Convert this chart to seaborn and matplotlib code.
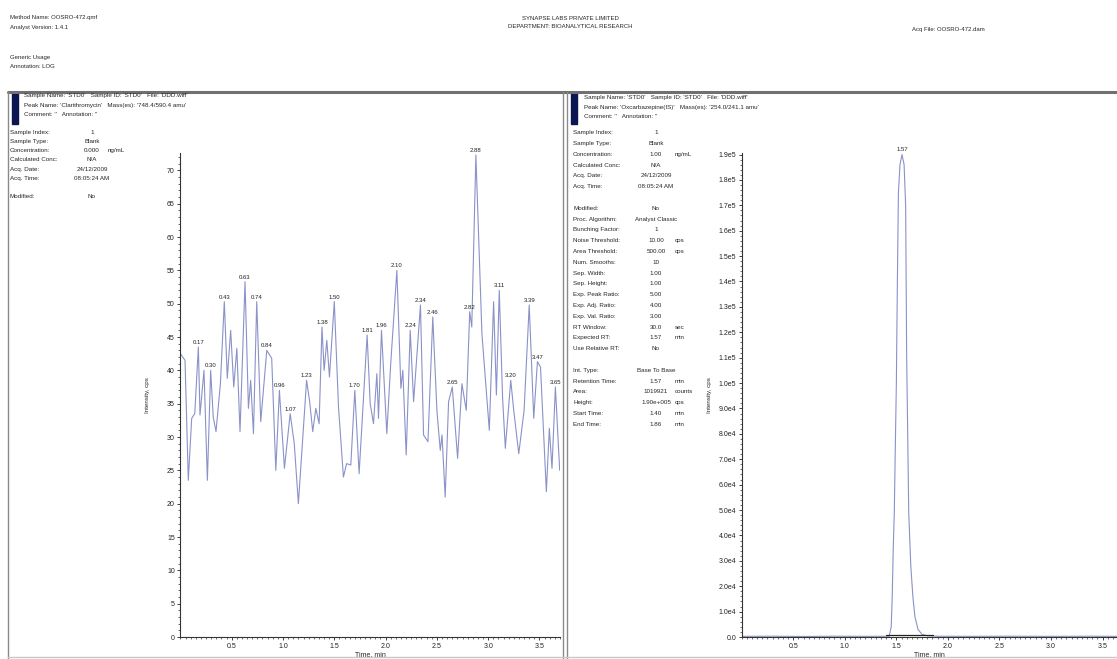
import numpy as np
import matplotlib
matplotlib.use("Agg")
import matplotlib.pyplot as plt
import matplotlib.ticker as mticker
from matplotlib.lines import Line2D
from matplotlib.patches import Rectangle
import seaborn as sns

W, H = 1117, 659

# Left panel: analyte trace (blank sample), time in min / intensity in cps
blank_time = [0.00, 0.045, 0.077, 0.110, 0.14, 0.175, 0.191, 0.23, 0.263, 0.295,
              0.32, 0.347, 0.39, 0.428, 0.457, 0.49, 0.52, 0.55, 0.581, 0.63,
              0.663, 0.685, 0.712, 0.744, 0.783, 0.842, 0.89, 0.930, 0.965, 1.014,
              1.07, 1.11, 1.150, 1.23, 1.26, 1.290, 1.32, 1.352, 1.38, 1.401,
              1.427, 1.453, 1.50, 1.541, 1.589, 1.62, 1.661, 1.70, 1.742, 1.82,
              1.850, 1.882, 1.915, 1.931, 1.96, 2.012, 2.05, 2.11, 2.149, 2.168,
              2.201, 2.24, 2.273, 2.34, 2.370, 2.413, 2.46, 2.50, 2.533, 2.55,
              2.581, 2.614, 2.65, 2.702, 2.744, 2.786, 2.82, 2.84, 2.88, 2.939,
              3.011, 3.053, 3.08, 3.108, 3.14, 3.167, 3.22, 3.249, 3.298, 3.35,
              3.40, 3.444, 3.48, 3.51, 3.567, 3.596, 3.622, 3.655, 3.697]
blank_cps = [42.5, 41.5, 23.5, 32.8, 33.5, 43.5, 33.3, 40.0, 23.5, 40.0,
             33.0, 30.8, 38.0, 50.3, 38.8, 46.0, 37.5, 43.3, 30.8, 53.3,
             34.3, 38.5, 30.5, 50.3, 32.3, 43.0, 41.8, 25.0, 37.0, 25.3,
             33.5, 29.0, 20.0, 38.5, 35.3, 30.8, 34.3, 32.0, 46.5, 40.0,
             44.5, 39.0, 50.3, 34.5, 24.0, 26.0, 25.8, 37.0, 24.5, 45.3,
             35.0, 32.0, 39.5, 32.8, 46.0, 30.5, 41.0, 55.0, 37.3, 40.0,
             27.3, 46.0, 35.3, 49.8, 30.3, 29.3, 48.0, 34.0, 28.0, 30.3,
             21.0, 35.3, 37.5, 26.8, 38.0, 34.0, 48.8, 46.5, 72.3, 45.5,
             31.0, 50.3, 36.3, 52.0, 36.0, 28.3, 38.5, 34.0, 27.5, 34.0,
             49.8, 32.8, 41.3, 40.5, 21.8, 31.3, 25.3, 37.5, 25.0]
blank_peak_times = [0.175, 0.295, 0.428, 0.63, 0.744, 0.842, 0.965, 1.07, 1.23, 1.38,
                    1.50, 1.70, 1.82, 1.96, 2.11, 2.24, 2.34, 2.46, 2.65, 2.82,
                    2.88, 3.108, 3.22, 3.40, 3.48, 3.655]
blank_peak_labels = ["0.17", "0.30", "0.43", "0.63", "0.74", "0.84", "0.96", "1.07", "1.23", "1.38",
                     "1.50", "1.70", "1.81", "1.96", "2.10", "2.24", "2.34", "2.46", "2.65", "2.82",
                     "2.88", "3.11", "3.20", "3.39", "3.47", "3.65"]

# Right panel: internal standard trace
is_time = [0.00, 0.30, 0.60, 0.90, 1.20, 1.43, 1.45, 1.46, 1.47, 1.48,
           1.49, 1.50, 1.51, 1.52, 1.535, 1.555, 1.575, 1.59, 1.60, 1.61,
           1.62, 1.64, 1.66, 1.68, 1.71, 1.75, 1.80, 1.90, 2.20, 2.60,
           3.00, 3.40, 3.64]
is_cps = [250, 300, 200, 300, 250, 300, 4000, 16000, 35000, 49000,
          75000, 100000, 140000, 175000, 186000, 190000, 186000, 170000, 110000, 80000,
          49000, 28000, 16000, 8000, 3000, 1000, 500, 300, 250, 300,
          250, 300, 250]
is_peak_times = [1.555]
is_peak_labels = ["1.57"]
is_baseline_time = [1.40, 1.86]
is_baseline_cps = [700, 700]

left_rows = ["Sample Index:", "Sample Type:", "Concentration:", "Calculated Conc:",
             "Acq. Date:", "Acq. Time:", "", "Modified:"]
left_values = ["1", "Blank", "0.000", "N/A", "24/12/2009", "08:05:24 AM", "", "No"]
left_units = ["", "", "ng/mL", "", "", "", "", ""]

right_rows = ["Sample Index:", "Sample Type:", "Concentration:", "Calculated Conc:",
              "Acq. Date:", "Acq. Time:", "", "Modified:", "Proc. Algorithm:",
              "Bunching Factor:", "Noise Threshold:", "Area Threshold:", "Num. Smooths:",
              "Sep. Width:", "Sep. Height:", "Exp. Peak Ratio:", "Exp. Adj. Ratio:",
              "Exp. Val. Ratio:", "RT Window:", "Expected RT:", "Use Relative RT:", "",
              "Int. Type:", "Retention Time:", "Area:", "Height:", "Start Time:", "End Time:"]
right_values = ["1", "Blank", "1.00", "N/A", "24/12/2009", "08:05:24 AM", "", "No",
                "Analyst Classic", "1", "10.00", "500.00", "10", "1.00", "1.00", "5.00",
                "4.00", "3.00", "30.0", "1.57", "No", "", "Base To Base", "1.57",
                "1019921", "1.90e+005", "1.40", "1.86"]
right_units = ["", "", "ng/mL", "", "", "", "", "", "", "", "cps", "cps", "", "", "", "",
               "", "", "sec", "min", "", "", "", "min", "counts", "cps", "min", "min"]

sns.set_style("ticks")
plt.rcParams["font.family"] = ["Liberation Sans", "DejaVu Sans"]

fig = plt.figure(figsize=(W / 100, H / 100), dpi=100)
fig.patch.set_facecolor("white")


def fx(x):
    return x / W


def fy(y):
    return 1 - y / H


def ax_rect(x0, x1, ytop, ybot):
    return [fx(x0), fy(ybot), (x1 - x0) / W, (ybot - ytop) / H]


def style_axis(ax):
    sns.despine(ax=ax)
    for s in ["left", "bottom"]:
        ax.spines[s].set_color("#333333")
        ax.spines[s].set_linewidth(0.8)
    ax.tick_params(which="major", direction="out", length=2.5, width=0.6,
                   labelsize=5, pad=1.5, colors="#222222")
    ax.tick_params(which="minor", direction="out", length=1.3, width=0.5, colors="#333333")
    ax.xaxis.set_major_locator(mticker.FixedLocator([0.5, 1.0, 1.5, 2.0, 2.5, 3.0, 3.5]))
    ax.xaxis.set_major_formatter(mticker.FormatStrFormatter("%.1f"))
    ax.xaxis.set_minor_locator(mticker.MultipleLocator(0.05))
    ax.set_xlabel("Time, min", fontsize=5, labelpad=0)
    ax.xaxis.set_label_coords(0.5, -0.028)
    ax.set_ylabel("Intensity, cps", fontsize=4.5)
    ax.set_facecolor("none")


def label_peaks(ax, times, values, peak_times, peak_labels):
    t = np.array(times)
    for pt, lab in zip(peak_times, peak_labels):
        i = int(np.argmin(np.abs(t - pt)))
        ax.annotate(lab, (times[i], values[i]), xytext=(0, 1.5), textcoords="offset points",
                    ha="center", va="bottom", fontsize=4.3, color="#222222")


# ---- left chromatogram
ax1 = fig.add_axes(ax_rect(180.4, 560, 153, 637))
sns.lineplot(x=blank_time, y=blank_cps, ax=ax1, color="#8a92c8", linewidth=0.8, estimator=None)
ax1.set_xlim(0, 3.70)
ax1.set_ylim(0, 72.6)
style_axis(ax1)
ax1.yaxis.set_major_locator(mticker.MultipleLocator(5))
ax1.yaxis.set_minor_locator(mticker.MultipleLocator(1))
ax1.yaxis.set_label_coords(-0.08, 0.5)
label_peaks(ax1, blank_time, blank_cps, blank_peak_times, blank_peak_labels)

# ---- right chromatogram
ax2 = fig.add_axes(ax_rect(741.7, 1117, 153, 637))
sns.lineplot(x=is_time, y=is_cps, ax=ax2, color="#8a92c8", linewidth=0.8, estimator=None)
sns.lineplot(x=is_baseline_time, y=is_baseline_cps, ax=ax2, color="#222222", linewidth=0.9,
             estimator=None)
ax2.set_xlim(0, 3.64)
ax2.set_ylim(0, 190600)
style_axis(ax2)
ax2.yaxis.set_major_locator(mticker.MultipleLocator(10000))
ax2.yaxis.set_minor_locator(mticker.MultipleLocator(2000))


def sci_label(v, pos):
    if v <= 0:
        return "0.0"
    e = int(np.floor(np.log10(v) + 1e-9))
    return f"{v / 10 ** e:.1f}e{e}"


ax2.yaxis.set_major_formatter(mticker.FuncFormatter(sci_label))
ax2.yaxis.set_label_coords(-0.079, 0.5)
label_peaks(ax2, is_time, is_cps, is_peak_times, is_peak_labels)

# ---- report frame
gray = "#8a8a8a"
fig.add_artist(Line2D([fx(8), fx(1117)], [fy(92), fy(92)], color="#707070", lw=2.2))
fig.add_artist(Line2D([fx(8), fx(8)], [fy(92), fy(659)], color=gray, lw=1.0))
fig.add_artist(Line2D([fx(563), fx(563)], [fy(92), fy(659)], color=gray, lw=1.0))
fig.add_artist(Line2D([fx(567), fx(567)], [fy(92), fy(659)], color=gray, lw=1.0))
fig.add_artist(Line2D([fx(8), fx(1117)], [fy(657), fy(657)], color="#c8c8c8", lw=1.0))
for bx in [12, 571]:
    fig.add_artist(Rectangle((fx(bx), fy(124)), 5.5 / W, 31 / H, color="#0b1552",
                             transform=fig.transFigure))

# ---- page header
hs = 4.3
fig.text(fx(10), fy(18), "Method Name: OOSRO-472.qmf", fontsize=hs, va="center")
fig.text(fx(10), fy(27), "Analyst Version: 1.4.1", fontsize=hs, va="center")
fig.text(fx(10), fy(57), "Generic Usage", fontsize=hs, va="center")
fig.text(fx(10), fy(66), "Annotation: LOG", fontsize=hs, va="center")
fig.text(fx(570), fy(18), "SYNAPSE LABS PRIVATE LIMITED", fontsize=hs, va="center", ha="center")
fig.text(fx(570), fy(26), "DEPARTMENT: BIOANALYTICAL RESEARCH", fontsize=hs, va="center", ha="center")
fig.text(fx(912), fy(30), "Acq File: OOSRO-472.dam", fontsize=hs, va="center")

# ---- panel info blocks
fs = 4.5
fig.text(fx(24), fy(96), "Sample Name: 'STD0'   Sample ID: 'STD0'   File: 'DDD.wiff'", fontsize=fs, va="center")
fig.text(fx(24), fy(105), "Peak Name: 'Clarithromycin'   Mass(es): '748.4/590.4 amu'", fontsize=fs, va="center")
fig.text(fx(24), fy(114), "Comment: ''   Annotation: ''", fontsize=fs, va="center")
for k, (r, v, u) in enumerate(zip(left_rows, left_values, left_units)):
    yy = 132.7 + 9.1 * k
    fig.text(fx(10), fy(yy), r, fontsize=fs, va="center")
    fig.text(fx(92), fy(yy), v, fontsize=fs, va="center", ha="center")
    fig.text(fx(108), fy(yy), u, fontsize=fs, va="center")

fig.text(fx(584), fy(97), "Sample Name: 'STD0'   Sample ID: 'STD0'   File: 'DDD.wiff'", fontsize=fs, va="center")
fig.text(fx(584), fy(107), "Peak Name: 'Oxcarbazepine(IS)'   Mass(es): '254.0/241.1 amu'", fontsize=fs, va="center")
fig.text(fx(584), fy(116), "Comment: ''   Annotation: ''", fontsize=fs, va="center")
for k, (r, v, u) in enumerate(zip(right_rows, right_values, right_units)):
    yy = 132.7 + 10.8 * k
    fig.text(fx(573), fy(yy), r, fontsize=fs, va="center")
    fig.text(fx(656), fy(yy), v, fontsize=fs, va="center", ha="center")
    fig.text(fx(675), fy(yy), u, fontsize=fs, va="center")

fig.savefig("out.png", dpi=100, facecolor="white")
